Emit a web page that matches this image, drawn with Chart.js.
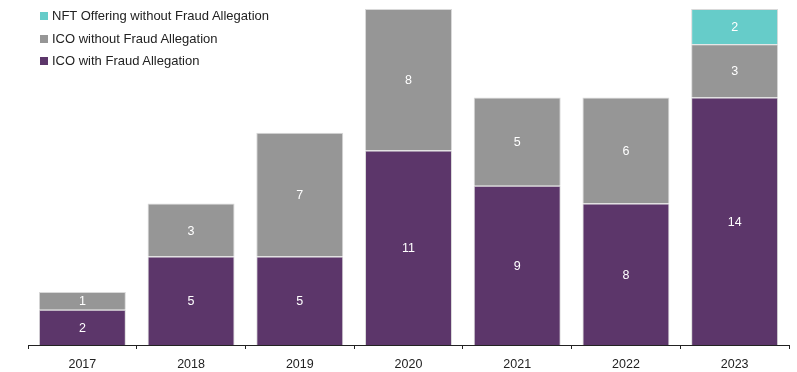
<!DOCTYPE html>
<html>
<head>
<meta charset="utf-8">
<script src="https://cdn.jsdelivr.net/npm/chart.js@4"></script>
<style>
  html, body { margin: 0; padding: 0; background: #fff; }
  #wrap { position: relative; width: 797px; height: 372px; }
  #legend { position: absolute; left: 40px; top: 8px; font: 13px "Liberation Sans", Arial, sans-serif; color: #222; }
  #legend div { height: 22.5px; line-height: 16px; white-space: nowrap; }
  #legend span { display: inline-block; width: 8px; height: 8px; margin-right: 4px; vertical-align: 0px; }
</style>
</head>
<body>
<div id="wrap">
  <canvas id="chart" width="797" height="372"></canvas>
  <div id="legend"></div>
</div>
<script>
// Categories and series
const years = ["2017", "2018", "2019", "2020", "2021", "2022", "2023"];
const icoFraud = [2, 5, 5, 11, 9, 8, 14];
const icoNoFraud = [1, 3, 7, 8, 5, 6, 3];
const nftNoFraud = [0, 0, 0, 0, 0, 0, 2];

const PURPLE = "#5c366a";
const GRAY = "#969696";
const TEAL = "#66ccc9";

// Legend order as it appears (top to bottom)
const legendItems = [
  ["NFT Offering without Fraud Allegation", TEAL],
  ["ICO without Fraud Allegation", GRAY],
  ["ICO with Fraud Allegation", PURPLE],
];

const legendEl = document.getElementById("legend");
legendItems.forEach(([label, color]) => {
  const row = document.createElement("div");
  row.innerHTML = `<span style="background:${color}"></span>${label}`;
  legendEl.appendChild(row);
});

// Draw the value inside each segment
const segmentLabels = {
  id: "segmentLabels",
  afterDatasetsDraw(chart) {
    const ctx = chart.ctx;
    ctx.save();
    ctx.font = '12.5px "Liberation Sans", Arial, sans-serif';
    ctx.fillStyle = "#ffffff";
    ctx.textAlign = "center";
    ctx.textBaseline = "middle";
    chart.data.datasets.forEach((ds, i) => {
      chart.getDatasetMeta(i).data.forEach((bar, j) => {
        const v = ds.data[j];
        if (!v) return;
        ctx.fillText(String(v), bar.x, (bar.y + bar.base) / 2 + 1);
      });
    });
    ctx.restore();
  },
};

const ctx = document.getElementById("chart").getContext("2d");
new Chart(ctx, {
  type: "bar",
  data: {
    labels: years,
    datasets: [
      { label: "ICO with Fraud Allegation", data: icoFraud, backgroundColor: PURPLE },
      { label: "ICO without Fraud Allegation", data: icoNoFraud, backgroundColor: GRAY },
      { label: "NFT Offering without Fraud Allegation", data: nftNoFraud, backgroundColor: TEAL },
    ].map((d) => Object.assign(d, {
      borderColor: "#d9d9d9",
      borderWidth: 1,
      borderSkipped: "bottom",
      categoryPercentage: 0.8,
      barPercentage: 1.0,
    })),
  },
  options: {
    responsive: false,
    animation: false,
    layout: { padding: { left: 28, right: 8, top: 9, bottom: 0 } },
    plugins: {
      legend: { display: false },
      tooltip: { enabled: false },
    },
    scales: {
      x: {
        stacked: true,
        offset: true,
        afterFit(scale) { scale.height = 27; },
        grid: {
          display: true,
          offset: true,
          drawOnChartArea: false,
          drawTicks: true,
          tickLength: 4,
          color: "#222",
        },
        border: { display: true, color: "#222", width: 1 },
        ticks: {
          color: "#222",
          padding: 8,
          font: { family: '"Liberation Sans", Arial, sans-serif', size: 12.5 },
        },
      },
      y: {
        stacked: true,
        display: false,
        min: 0,
        max: 19,
      },
    },
  },
  plugins: [segmentLabels],
});
</script>
</body>
</html>
